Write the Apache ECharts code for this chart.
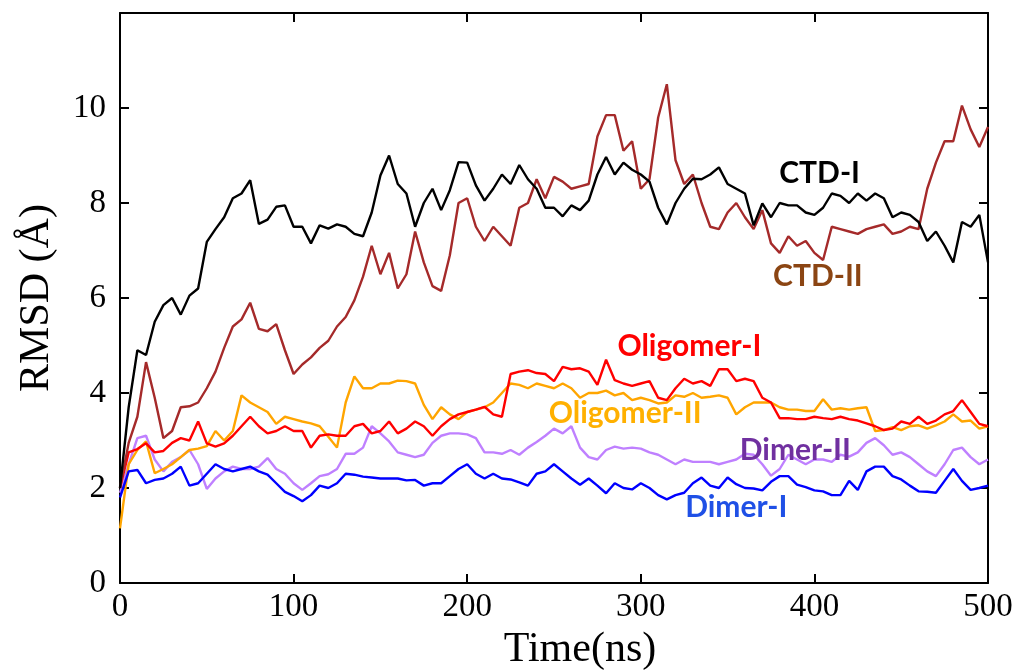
<!DOCTYPE html>
<html>
<head>
<meta charset="utf-8">
<script src="https://cdn.jsdelivr.net/npm/echarts@6/dist/echarts.min.js"></script>
<style>
  html, body { margin: 0; padding: 0; background: #fff; }
  #main { width: 1020px; height: 671px; }
</style>
</head>
<body>
<div id="main"></div>
<script>
// time axis, one reading every 5 ns
var timeNs = [];
for (var t = 0; t <= 500; t += 5) { timeNs.push(t); }

var ctd1 = [2.0,3.7,4.9,4.8,5.5,5.85,6.0,5.65,6.05,6.2,7.18,7.45,7.7,8.1,8.2,8.48,7.56,7.65,7.92,7.95,
  7.5,7.5,7.15,7.53,7.46,7.55,7.5,7.35,7.3,7.8,8.58,9.0,8.4,8.2,7.5,8.0,8.3,7.85,8.27,8.86,
  8.85,8.37,8.05,8.3,8.6,8.4,8.8,8.5,8.3,7.9,7.9,7.72,7.95,7.85,8.05,8.6,8.97,8.6,8.85,8.7,
  8.6,8.45,7.9,7.55,8.0,8.3,8.51,8.5,8.6,8.75,8.4,8.3,8.2,7.53,7.99,7.7,8.0,7.95,7.95,7.8,
  7.75,7.9,8.2,8.15,8.0,8.2,8.05,8.2,8.1,7.7,7.8,7.75,7.6,7.2,7.4,7.1,6.75,7.6,7.5,7.75,6.75];

var ctd2 = [2.0,2.95,3.5,4.65,3.9,3.05,3.2,3.7,3.72,3.8,4.1,4.45,4.95,5.4,5.55,5.9,5.35,5.3,5.45,4.9,
  4.4,4.6,4.75,4.95,5.1,5.4,5.6,5.95,6.45,7.1,6.5,6.95,6.2,6.5,7.4,6.75,6.25,6.15,6.9,8.0,
  8.1,7.5,7.2,7.5,7.3,7.1,7.9,8.0,8.5,8.1,8.55,8.45,8.3,8.35,8.4,9.4,9.85,9.85,9.1,9.3,
  8.3,8.5,9.8,10.5,8.9,8.4,8.6,8.0,7.5,7.45,7.8,8.0,7.7,7.45,7.85,7.15,6.95,7.3,7.1,7.2,
  6.95,6.8,7.5,7.45,7.4,7.35,7.45,7.5,7.55,7.35,7.4,7.5,7.45,8.3,8.85,9.3,9.3,10.05,9.55,9.18,9.6];

var oligomer1 = [2.0,2.75,2.82,2.94,2.75,2.78,2.95,3.05,3.0,3.4,2.94,2.87,2.94,3.1,3.3,3.5,3.3,3.15,3.2,3.3,
  3.2,3.2,2.85,3.1,3.13,3.1,3.1,3.3,3.35,3.15,3.2,3.4,3.15,3.25,3.4,3.3,3.1,3.3,3.45,3.55,
  3.6,3.65,3.71,3.55,3.5,4.4,4.45,4.48,4.42,4.4,4.25,4.55,4.5,4.52,4.45,4.17,4.7,4.27,4.2,4.15,
  4.2,4.25,3.9,3.85,4.1,4.3,4.2,4.25,4.15,4.5,4.5,4.25,4.3,4.25,3.9,3.8,3.47,3.47,3.45,3.45,
  3.5,3.47,3.45,3.5,3.45,3.42,3.36,3.3,3.22,3.25,3.4,3.35,3.5,3.35,3.42,3.55,3.62,3.85,3.6,3.35,3.3];

var oligomer2 = [1.15,2.5,2.8,2.98,2.31,2.4,2.5,2.65,2.8,2.83,2.88,3.2,3.0,3.2,3.95,3.8,3.7,3.6,3.35,3.5,
  3.45,3.4,3.36,3.3,3.08,2.85,3.8,4.35,4.1,4.1,4.2,4.2,4.26,4.25,4.2,3.75,3.45,3.7,3.55,3.45,
  3.6,3.65,3.7,3.8,4.0,4.2,4.17,4.1,4.2,4.15,4.1,4.2,4.1,3.9,4.0,4.0,4.05,3.95,4.0,3.85,
  3.9,3.85,3.78,3.8,3.95,3.92,4.0,3.9,3.92,3.95,3.9,3.55,3.7,3.8,3.8,3.8,3.7,3.65,3.65,3.62,
  3.62,3.87,3.65,3.68,3.65,3.68,3.7,3.2,3.22,3.28,3.22,3.3,3.32,3.25,3.32,3.4,3.55,3.4,3.42,3.25,3.3];

var dimer2 = [1.9,2.5,3.05,3.1,2.6,2.35,2.55,2.65,2.8,2.5,1.98,2.2,2.35,2.45,2.4,2.4,2.45,2.63,2.4,2.3,
  2.1,1.96,2.1,2.25,2.29,2.4,2.72,2.72,2.85,3.3,3.15,2.98,2.75,2.7,2.65,2.7,2.95,3.1,3.15,3.15,
  3.13,3.05,2.75,2.75,2.72,2.8,2.7,2.85,2.97,3.1,3.25,3.15,3.3,2.85,2.65,2.6,2.8,2.87,2.83,2.85,
  2.83,2.75,2.7,2.6,2.5,2.6,2.55,2.55,2.55,2.5,2.55,2.6,2.72,2.7,2.5,2.26,2.4,2.7,2.6,2.5,
  2.6,2.6,2.55,2.7,2.66,2.75,2.95,3.05,2.9,2.7,2.75,2.65,2.5,2.35,2.25,2.5,2.8,2.85,2.65,2.5,2.6];

var dimer1 = [1.8,2.35,2.38,2.1,2.17,2.2,2.3,2.45,2.05,2.1,2.3,2.5,2.4,2.35,2.4,2.45,2.35,2.28,2.1,1.92,
  1.83,1.72,1.85,2.05,2.0,2.1,2.3,2.28,2.24,2.22,2.2,2.2,2.2,2.16,2.17,2.05,2.1,2.1,2.25,2.4,
  2.5,2.3,2.2,2.3,2.2,2.18,2.12,2.05,2.3,2.35,2.5,2.35,2.2,2.07,2.2,2.05,1.89,2.1,2.0,1.97,
  2.1,2.0,1.85,1.76,1.85,1.9,2.1,2.22,2.05,2.0,2.22,2.08,2.0,1.99,1.95,2.13,2.25,2.25,2.07,2.02,
  1.95,1.93,1.85,1.85,2.15,1.96,2.35,2.45,2.45,2.25,2.18,2.05,1.93,1.92,1.9,2.15,2.4,2.15,1.96,2.0,2.05];

// names, line colours, label colours and label anchor (ns, RMSD)
var seriesNames = ['Dimer-II', 'Oligomer-II', 'Oligomer-I', 'Dimer-I', 'CTD-II', 'CTD-I'];
var seriesValues = [dimer2, oligomer2, oligomer1, dimer1, ctd2, ctd1];
var lineColors = ['#bf80ff', '#ffa500', '#ff0000', '#0000ff', '#a52a2a', '#000000'];
var labelColors = ['#7030a0', '#ffb000', '#ff0000', '#1f50e6', '#8b4513', '#000000'];
var labelAnchors = [[389, 2.8], [291, 3.58], [328, 4.99], [355, 1.59], [402, 6.46], [403, 8.62]];

var chart = echarts.init(document.getElementById('main'));

var series = [];
for (var i = 0; i < seriesNames.length; i++) {
	var pts = [];
	for (var k = 0; k < timeNs.length; k++) {
		pts.push([timeNs[k], seriesValues[i][k]]);
	}
	series.push({
		name: seriesNames[i],
		type: 'line',
		data: pts,
		showSymbol: false,
		lineStyle: { color: lineColors[i], width: 2.4 },
		itemStyle: { color: lineColors[i] },
		z: 2 + i
	});
}

// curve names written inside the plot
var labelData = [];
for (var j = 0; j < seriesNames.length; j++) {
	labelData.push({
		name: seriesNames[j],
		value: labelAnchors[j],
		label: { color: labelColors[j] }
	});
}
series.push({
	type: 'scatter',
	symbolSize: 0,
	data: labelData,
	z: 20,
	silent: true,
	itemStyle: { opacity: 1 },
	emphasis: { disabled: true },
	label: {
		show: true,
		position: 'inside',
		formatter: '{b}',
		fontFamily: 'Lato',
		fontWeight: 'bold',
		fontSize: 30,
		opacity: 1
	}
});

var serif = 'Liberation Serif';
var frameLine = { show: true, onZero: false, lineStyle: { color: '#000', width: 2 } };
var inTick = { show: true, inside: true, length: 9, lineStyle: { color: '#000', width: 2 } };

var option = {
	animation: false,
	backgroundColor: '#fff',
	grid: { left: 120, right: 32, top: 13, bottom: 88 },
	graphic: [{
		type: 'text',
		x: 580,
		y: 629,
		style: {
			text: 'Time(ns)',
			font: '42px "Liberation Serif"',
			fill: '#000',
			align: 'center',
			verticalAlign: 'top'
		}
	}],
	xAxis: [{
		type: 'value',
		min: 0, max: 500, interval: 100,
		position: 'bottom',
		axisLine: frameLine,
		axisTick: inTick,
		axisLabel: { fontFamily: serif, fontSize: 33, color: '#000', margin: 8 },
		splitLine: { show: false }
	}, {
		type: 'value',
		min: 0, max: 500, interval: 100,
		position: 'top',
		axisLine: frameLine,
		axisTick: inTick,
		axisLabel: { show: false },
		splitLine: { show: false }
	}],
	yAxis: [{
		type: 'value',
		min: 0, max: 12, interval: 2,
		position: 'left',
		name: 'RMSD (Å)',
		nameLocation: 'middle',
		nameGap: 62,
		nameTextStyle: { fontFamily: serif, fontSize: 42, color: '#000' },
		axisLine: frameLine,
		axisTick: inTick,
		axisLabel: {
			fontFamily: serif, fontSize: 33, color: '#000', margin: 14,
			formatter: function (v) { return v === 12 ? '' : v; }
		},
		splitLine: { show: false }
	}, {
		type: 'value',
		min: 0, max: 12, interval: 2,
		position: 'right',
		axisLine: frameLine,
		axisTick: inTick,
		axisLabel: { show: false },
		splitLine: { show: false }
	}],
	series: series
};

chart.setOption(option);
</script>
</body>
</html>
